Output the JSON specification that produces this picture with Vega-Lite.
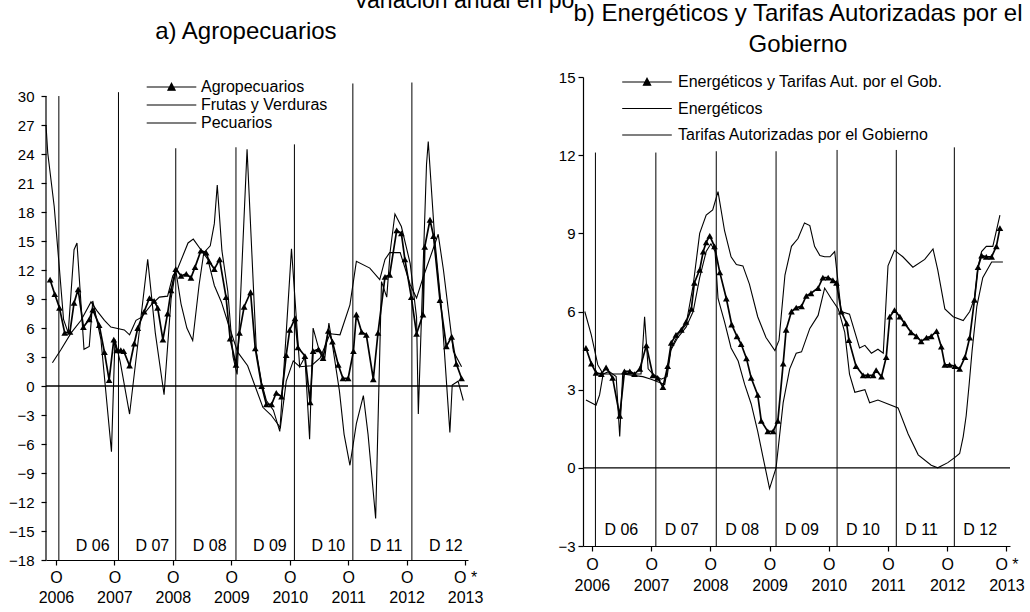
{
  "$schema": "https://vega.github.io/schema/vega-lite/v6.json",
  "padding": {"left": 8, "top": -10, "right": 0, "bottom": 0},
  "background": "white",
  "config": {
    "font": "Liberation Sans",
    "view": {"stroke": null},
    "axis": {"domainColor": "black", "tickColor": "black", "labelColor": "black", "grid": false, "labelFont": "Liberation Sans", "domainWidth": 1.2, "tickWidth": 1.2, "labelOverlap": false, "labelFlush": false},
    "text": {"font": "Liberation Sans", "color": "black"}
  },
  "datasets": {
    "marcasA": [
      {"t": 2006.05, "top": 30.0, "etiqueta": "D 06"},
      {"t": 2007.07, "top": 30.4, "etiqueta": "D 07"},
      {"t": 2008.05, "top": 24.6, "etiqueta": "D 08"},
      {"t": 2009.08, "top": 24.7, "etiqueta": "D 09"},
      {"t": 2010.08, "top": 25.0, "etiqueta": "D 10"},
      {"t": 2011.08, "top": 31.3, "etiqueta": "D 11"},
      {"t": 2012.09, "top": 31.4, "etiqueta": "D 12"}
    ],
    "marcasB": [
      {"t": 2006.06, "top": 12.1, "etiqueta": "D 06"},
      {"t": 2007.08, "top": 12.1, "etiqueta": "D 07"},
      {"t": 2008.10, "top": 12.15, "etiqueta": "D 08"},
      {"t": 2009.11, "top": 12.15, "etiqueta": "D 09"},
      {"t": 2010.14, "top": 12.2, "etiqueta": "D 10"},
      {"t": 2011.14, "top": 12.2, "etiqueta": "D 11"},
      {"t": 2012.12, "top": 12.3, "etiqueta": "D 12"}
    ],
    "agro": [
      {"t":2005.90,"v":11.0},{"t":2005.98,"v":9.5},{"t":2006.06,"v":8.1},{"t":2006.15,"v":5.5},{"t":2006.24,"v":5.6},{"t":2006.31,"v":8.6},{"t":2006.38,"v":10.0},{"t":2006.47,"v":6.1},{"t":2006.57,"v":6.9},{"t":2006.63,"v":7.9},{"t":2006.74,"v":6.3},{"t":2006.83,"v":3.5},{"t":2006.91,"v":0.6},{"t":2006.99,"v":4.8},{"t":2007.04,"v":3.7},{"t":2007.11,"v":3.7},{"t":2007.16,"v":3.6},{"t":2007.26,"v":2.1},{"t":2007.34,"v":4.4},{"t":2007.40,"v":6.0},{"t":2007.51,"v":7.7},{"t":2007.60,"v":9.1},{"t":2007.68,"v":8.8},{"t":2007.74,"v":8.1},{"t":2007.83,"v":4.8},{"t":2007.91,"v":7.5},{"t":2007.97,"v":9.9},{"t":2008.05,"v":12.1},{"t":2008.14,"v":11.4},{"t":2008.23,"v":11.6},{"t":2008.31,"v":11.2},{"t":2008.38,"v":12.3},{"t":2008.48,"v":14.0},{"t":2008.57,"v":13.8},{"t":2008.62,"v":12.9},{"t":2008.71,"v":12.1},{"t":2008.80,"v":13.1},{"t":2008.91,"v":9.2},{"t":2008.98,"v":4.9},{"t":2009.08,"v":2.2},{"t":2009.14,"v":5.5},{"t":2009.22,"v":8.2},{"t":2009.33,"v":9.7},{"t":2009.41,"v":3.9},{"t":2009.52,"v":0.0},{"t":2009.60,"v":-1.9},{"t":2009.69,"v":-1.9},{"t":2009.77,"v":-0.7},{"t":2009.86,"v":-1.1},{"t":2009.94,"v":3.2},{"t":2010.00,"v":5.8},{"t":2010.09,"v":7.0},{"t":2010.14,"v":4.0},{"t":2010.26,"v":3.1},{"t":2010.35,"v":-1.7},{"t":2010.40,"v":3.6},{"t":2010.49,"v":3.8},{"t":2010.57,"v":2.9},{"t":2010.66,"v":5.7},{"t":2010.73,"v":4.6},{"t":2010.83,"v":2.2},{"t":2010.91,"v":0.8},{"t":2011.00,"v":0.8},{"t":2011.09,"v":3.6},{"t":2011.14,"v":7.4},{"t":2011.23,"v":5.6},{"t":2011.31,"v":5.3},{"t":2011.43,"v":0.7},{"t":2011.51,"v":5.5},{"t":2011.63,"v":11.3},{"t":2011.71,"v":11.5},{"t":2011.83,"v":16.1},{"t":2011.91,"v":15.8},{"t":2011.97,"v":13.1},{"t":2012.08,"v":9.2},{"t":2012.17,"v":5.4},{"t":2012.28,"v":7.4},{"t":2012.31,"v":14.4},{"t":2012.40,"v":17.2},{"t":2012.46,"v":15.5},{"t":2012.57,"v":8.9},{"t":2012.68,"v":4.1},{"t":2012.77,"v":5.1},{"t":2012.85,"v":2.3},{"t":2012.94,"v":0.8}
    ],
    "frutas": [
      {"t":2005.83,"v":27.0},{"t":2005.86,"v":24.1},{"t":2005.97,"v":18.6},{"t":2006.06,"v":12.1},{"t":2006.13,"v":6.9},{"t":2006.21,"v":5.5},{"t":2006.31,"v":14.1},{"t":2006.36,"v":14.8},{"t":2006.48,"v":3.8},{"t":2006.57,"v":4.1},{"t":2006.63,"v":8.8},{"t":2006.77,"v":4.8},{"t":2006.95,"v":-6.8},{"t":2007.01,"v":4.8},{"t":2007.10,"v":2.5},{"t":2007.26,"v":-2.9},{"t":2007.46,"v":7.4},{"t":2007.57,"v":13.1},{"t":2007.70,"v":5.5},{"t":2007.85,"v":-0.9},{"t":2007.97,"v":9.0},{"t":2008.05,"v":12.0},{"t":2008.14,"v":8.5},{"t":2008.24,"v":6.0},{"t":2008.34,"v":4.7},{"t":2008.45,"v":10.5},{"t":2008.53,"v":13.8},{"t":2008.64,"v":14.5},{"t":2008.71,"v":16.8},{"t":2008.76,"v":20.8},{"t":2008.84,"v":14.0},{"t":2008.94,"v":9.8},{"t":2009.03,"v":3.0},{"t":2009.10,"v":1.2},{"t":2009.27,"v":24.5},{"t":2009.43,"v":3.5},{"t":2009.52,"v":0.3},{"t":2009.60,"v":-1.5},{"t":2009.72,"v":-2.5},{"t":2009.83,"v":-4.7},{"t":2009.94,"v":5.5},{"t":2010.03,"v":14.2},{"t":2010.09,"v":9.0},{"t":2010.17,"v":2.0},{"t":2010.26,"v":3.0},{"t":2010.34,"v":-5.5},{"t":2010.40,"v":6.0},{"t":2010.49,"v":4.0},{"t":2010.60,"v":2.9},{"t":2010.67,"v":6.5},{"t":2010.74,"v":3.9},{"t":2010.85,"v":-0.5},{"t":2010.93,"v":-5.0},{"t":2011.03,"v":-8.2},{"t":2011.14,"v":-3.9},{"t":2011.26,"v":-1.0},{"t":2011.34,"v":-5.0},{"t":2011.47,"v":-13.7},{"t":2011.57,"v":10.8},{"t":2011.66,"v":9.2},{"t":2011.72,"v":14.0},{"t":2011.80,"v":17.8},{"t":2011.91,"v":16.5},{"t":2012.06,"v":12.7},{"t":2012.17,"v":7.1},{"t":2012.20,"v":-2.9},{"t":2012.28,"v":11.9},{"t":2012.34,"v":22.9},{"t":2012.37,"v":25.3},{"t":2012.48,"v":15.3},{"t":2012.60,"v":7.7},{"t":2012.74,"v":-4.8},{"t":2012.78,"v":0.1},{"t":2012.88,"v":0.5},{"t":2012.97,"v":-1.5}
    ],
    "pecuarios": [
      {"t":2005.94,"v":2.4},{"t":2006.09,"v":3.8},{"t":2006.26,"v":5.5},{"t":2006.43,"v":6.8},{"t":2006.60,"v":8.7},{"t":2006.70,"v":7.8},{"t":2006.83,"v":6.8},{"t":2006.94,"v":6.1},{"t":2007.17,"v":5.8},{"t":2007.26,"v":5.3},{"t":2007.37,"v":6.8},{"t":2007.46,"v":7.1},{"t":2007.63,"v":8.4},{"t":2007.77,"v":9.2},{"t":2007.91,"v":9.3},{"t":2008.00,"v":11.4},{"t":2008.08,"v":12.1},{"t":2008.26,"v":14.8},{"t":2008.35,"v":15.2},{"t":2008.48,"v":14.1},{"t":2008.60,"v":13.1},{"t":2008.71,"v":10.4},{"t":2008.83,"v":8.7},{"t":2008.94,"v":6.6},{"t":2009.11,"v":3.5},{"t":2009.28,"v":2.1},{"t":2009.40,"v":0.1},{"t":2009.54,"v":-2.2},{"t":2009.68,"v":-3.0},{"t":2009.84,"v":-4.3},{"t":2009.94,"v":0.5},{"t":2010.06,"v":2.6},{"t":2010.17,"v":2.0},{"t":2010.37,"v":2.1},{"t":2010.52,"v":2.9},{"t":2010.69,"v":5.4},{"t":2010.86,"v":5.3},{"t":2011.03,"v":8.4},{"t":2011.14,"v":12.9},{"t":2011.37,"v":12.2},{"t":2011.54,"v":11.0},{"t":2011.63,"v":13.1},{"t":2011.71,"v":13.8},{"t":2011.89,"v":13.8},{"t":2012.06,"v":10.5},{"t":2012.17,"v":9.1},{"t":2012.28,"v":11.2},{"t":2012.46,"v":14.3},{"t":2012.54,"v":15.7},{"t":2012.63,"v":12.0},{"t":2012.80,"v":3.6},{"t":2012.94,"v":2.0}
    ],
    "etg": [
      {"t":2005.90,"v":4.6},{"t":2005.99,"v":4.0},{"t":2006.07,"v":3.65},{"t":2006.16,"v":3.6},{"t":2006.24,"v":3.85},{"t":2006.35,"v":3.45},{"t":2006.47,"v":2.0},{"t":2006.55,"v":3.7},{"t":2006.64,"v":3.7},{"t":2006.72,"v":3.6},{"t":2006.81,"v":3.8},{"t":2006.92,"v":4.7},{"t":2007.03,"v":3.55},{"t":2007.11,"v":3.45},{"t":2007.20,"v":3.1},{"t":2007.28,"v":3.9},{"t":2007.34,"v":4.8},{"t":2007.42,"v":5.1},{"t":2007.51,"v":5.3},{"t":2007.59,"v":5.6},{"t":2007.68,"v":6.1},{"t":2007.73,"v":7.1},{"t":2007.82,"v":7.6},{"t":2007.88,"v":8.3},{"t":2007.93,"v":8.65},{"t":2007.99,"v":8.9},{"t":2008.07,"v":8.5},{"t":2008.16,"v":7.5},{"t":2008.27,"v":6.5},{"t":2008.36,"v":5.5},{"t":2008.45,"v":5.05},{"t":2008.52,"v":4.75},{"t":2008.61,"v":4.2},{"t":2008.69,"v":3.45},{"t":2008.80,"v":2.8},{"t":2008.86,"v":1.8},{"t":2008.97,"v":1.4},{"t":2009.06,"v":1.4},{"t":2009.14,"v":1.8},{"t":2009.23,"v":4.0},{"t":2009.28,"v":5.3},{"t":2009.37,"v":6.0},{"t":2009.45,"v":6.15},{"t":2009.54,"v":6.2},{"t":2009.62,"v":6.6},{"t":2009.70,"v":6.7},{"t":2009.82,"v":6.9},{"t":2009.90,"v":7.3},{"t":2009.99,"v":7.3},{"t":2010.07,"v":7.2},{"t":2010.13,"v":7.1},{"t":2010.21,"v":6.0},{"t":2010.30,"v":5.55},{"t":2010.34,"v":4.9},{"t":2010.46,"v":3.9},{"t":2010.58,"v":3.55},{"t":2010.66,"v":3.55},{"t":2010.75,"v":3.55},{"t":2010.80,"v":3.75},{"t":2010.89,"v":3.5},{"t":2010.97,"v":4.25},{"t":2011.03,"v":5.8},{"t":2011.11,"v":6.05},{"t":2011.20,"v":5.8},{"t":2011.28,"v":5.55},{"t":2011.39,"v":5.2},{"t":2011.48,"v":5.05},{"t":2011.56,"v":4.85},{"t":2011.65,"v":5.0},{"t":2011.73,"v":5.05},{"t":2011.82,"v":5.25},{"t":2011.90,"v":4.65},{"t":2011.96,"v":3.95},{"t":2012.04,"v":3.95},{"t":2012.13,"v":3.9},{"t":2012.21,"v":3.8},{"t":2012.30,"v":4.25},{"t":2012.38,"v":5.0},{"t":2012.46,"v":6.45},{"t":2012.52,"v":7.7},{"t":2012.58,"v":8.15},{"t":2012.66,"v":8.1},{"t":2012.75,"v":8.1},{"t":2012.83,"v":8.5},{"t":2012.89,"v":9.2}
    ],
    "energ": [
      {"t":2005.88,"v":6.0},{"t":2005.99,"v":5.1},{"t":2006.10,"v":3.95},{"t":2006.19,"v":3.6},{"t":2006.29,"v":3.7},{"t":2006.41,"v":3.5},{"t":2006.47,"v":1.2},{"t":2006.52,"v":3.6},{"t":2006.69,"v":3.6},{"t":2006.83,"v":3.6},{"t":2006.89,"v":5.8},{"t":2006.95,"v":3.8},{"t":2007.03,"v":3.6},{"t":2007.17,"v":3.4},{"t":2007.27,"v":3.5},{"t":2007.34,"v":4.6},{"t":2007.45,"v":5.1},{"t":2007.59,"v":5.5},{"t":2007.71,"v":7.0},{"t":2007.82,"v":9.0},{"t":2007.93,"v":9.7},{"t":2008.04,"v":9.9},{"t":2008.13,"v":10.6},{"t":2008.24,"v":9.1},{"t":2008.35,"v":8.1},{"t":2008.44,"v":7.8},{"t":2008.55,"v":7.75},{"t":2008.66,"v":7.05},{"t":2008.80,"v":5.8},{"t":2008.94,"v":5.0},{"t":2009.09,"v":4.5},{"t":2009.16,"v":4.9},{"t":2009.26,"v":7.4},{"t":2009.37,"v":8.5},{"t":2009.48,"v":8.8},{"t":2009.59,"v":9.4},{"t":2009.68,"v":9.3},{"t":2009.76,"v":8.5},{"t":2009.85,"v":8.15},{"t":2009.93,"v":8.1},{"t":2010.02,"v":8.1},{"t":2010.10,"v":8.3},{"t":2010.21,"v":6.0},{"t":2010.35,"v":5.9},{"t":2010.52,"v":4.6},{"t":2010.61,"v":4.7},{"t":2010.72,"v":4.4},{"t":2010.83,"v":4.55},{"t":2010.92,"v":4.4},{"t":2011.00,"v":7.75},{"t":2011.11,"v":8.35},{"t":2011.25,"v":8.1},{"t":2011.42,"v":7.7},{"t":2011.62,"v":8.0},{"t":2011.76,"v":8.4},{"t":2011.84,"v":7.6},{"t":2011.96,"v":6.1},{"t":2012.10,"v":5.8},{"t":2012.27,"v":5.65},{"t":2012.38,"v":6.0},{"t":2012.46,"v":6.5},{"t":2012.52,"v":7.7},{"t":2012.58,"v":8.3},{"t":2012.66,"v":8.5},{"t":2012.77,"v":8.5},{"t":2012.89,"v":9.7}
    ],
    "tarifas": [
      {"t":2005.90,"v":2.6},{"t":2006.07,"v":2.4},{"t":2006.13,"v":2.8},{"t":2006.19,"v":3.6},{"t":2006.35,"v":3.6},{"t":2006.52,"v":3.6},{"t":2006.69,"v":3.55},{"t":2006.86,"v":3.5},{"t":2007.00,"v":3.4},{"t":2007.11,"v":3.3},{"t":2007.23,"v":3.2},{"t":2007.33,"v":4.5},{"t":2007.45,"v":5.0},{"t":2007.59,"v":5.4},{"t":2007.71,"v":6.0},{"t":2007.82,"v":7.3},{"t":2007.93,"v":8.3},{"t":2008.01,"v":8.6},{"t":2008.08,"v":8.3},{"t":2008.13,"v":6.5},{"t":2008.24,"v":5.6},{"t":2008.35,"v":4.6},{"t":2008.47,"v":4.1},{"t":2008.58,"v":3.2},{"t":2008.69,"v":2.45},{"t":2008.80,"v":1.4},{"t":2008.89,"v":0.4},{"t":2009.00,"v":-0.8},{"t":2009.11,"v":0.0},{"t":2009.23,"v":2.5},{"t":2009.34,"v":3.8},{"t":2009.45,"v":4.4},{"t":2009.54,"v":4.45},{"t":2009.68,"v":5.35},{"t":2009.82,"v":5.85},{"t":2009.93,"v":6.9},{"t":2010.04,"v":6.5},{"t":2010.16,"v":6.1},{"t":2010.27,"v":5.2},{"t":2010.35,"v":3.6},{"t":2010.44,"v":2.9},{"t":2010.61,"v":3.0},{"t":2010.69,"v":2.5},{"t":2010.83,"v":2.6},{"t":2011.00,"v":2.45},{"t":2011.17,"v":2.3},{"t":2011.34,"v":1.3},{"t":2011.51,"v":0.5},{"t":2011.73,"v":0.1},{"t":2011.84,"v":0.0},{"t":2012.01,"v":0.2},{"t":2012.13,"v":0.4},{"t":2012.21,"v":0.55},{"t":2012.27,"v":1.2},{"t":2012.32,"v":2.0},{"t":2012.37,"v":3.2},{"t":2012.42,"v":4.5},{"t":2012.50,"v":6.2},{"t":2012.60,"v":7.3},{"t":2012.75,"v":7.9},{"t":2012.94,"v":7.9}
    ]
  },
  "hconcat": [
    {
      "width": 422,
      "height": 483,
      "layer": [
        {
          "data": {"name": "marcasA"},
          "mark": {"type": "rule", "color": "black", "strokeWidth": 1},
          "encoding": {
            "x": {"field": "t", "type": "quantitative",
              "scale": {"domain": [2005.83, 2013.05], "nice": false, "zero": false},
              "axis": {"title": null, "values": [2006, 2007, 2008, 2009, 2010, 2011, 2012, 2013], "tickCount": 20,
                "labelExpr": "datum.value == 2013 ? ['O *', '2013'] : ['O', '' + datum.value]",
                "labelFontSize": 16, "labelLineHeight": 20, "tickSize": 5, "labelPadding": 4, "labelOverlap": false, "labelFlush": false}},
            "y": {"field": "top", "type": "quantitative",
              "scale": {"domain": [-18, 31.97], "nice": false, "zero": false},
              "axis": {"title": null, "values": [-18, -15, -12, -9, -6, -3, 0, 3, 6, 9, 12, 15, 18, 21, 24, 27, 30], "tickCount": 30,
                "domain": false, "labelFontSize": 15, "tickSize": 5, "labelPadding": 7, "labelOverlap": false, "labelFlush": false}},
            "y2": {"datum": -18}
          }
        },
        {
          "data": {"name": "marcasA"},
          "mark": {"type": "text", "align": "left", "baseline": "middle", "dx": 17, "fontSize": 16},
          "encoding": {
            "x": {"field": "t", "type": "quantitative"},
            "y": {"datum": -16.6},
            "text": {"field": "etiqueta"}
          }
        },
        {
          "data": {"values": [{}]},
          "mark": {"type": "rule", "color": "black", "strokeWidth": 1.3},
          "encoding": {"y": {"datum": 0}}
        },
        {
          "data": {"values": [{}]},
          "mark": {"type": "rule", "color": "black", "strokeWidth": 1.2},
          "encoding": {"x": {"datum": 2005.83}, "y": {"datum": -18}, "y2": {"datum": 30}}
        },
        {
          "data": {"name": "frutas"},
          "mark": {"type": "line", "strokeWidth": 1.1},
          "encoding": {
            "x": {"field": "t", "type": "quantitative"},
            "y": {"field": "v", "type": "quantitative"},
            "color": {"datum": "Frutas y Verduras", "type": "nominal",
              "scale": {"domain": ["Agropecuarios", "Frutas y Verduras", "Pecuarios"], "range": ["black", "black", "black"]},
              "legend": {"orient": "none", "legendX": 116.5, "legendY": 1, "title": null, "symbolSize": 256,
                "labelOffset": 20.5, "rowPadding": 1, "padding": 0, "labelFontSize": 16, "labelLimit": 0, "labelFont": "Liberation Sans", "labelColor": "black",
                "encode": {"symbols": {"update": {
                  "shape": {"signal": "datum.value === 'Agropecuarios' ? 'M-3.1,0H3.1M-0.45,0.4L0,-0.45L0.45,0.4Z' : 'M-3.1,0H3.1'"},
                  "fill": {"value": "black"}, "stroke": {"value": "black"}, "strokeWidth": {"value": 1.2}, "opacity": {"value": 1}}}}}}
          }
        },
        {
          "data": {"name": "pecuarios"},
          "mark": {"type": "line", "strokeWidth": 1.1},
          "encoding": {
            "x": {"field": "t", "type": "quantitative"},
            "y": {"field": "v", "type": "quantitative"},
            "color": {"datum": "Pecuarios", "type": "nominal"}
          }
        },
        {
          "data": {"name": "agro"},
          "mark": {"type": "line", "strokeWidth": 1.7},
          "encoding": {
            "x": {"field": "t", "type": "quantitative"},
            "y": {"field": "v", "type": "quantitative"},
            "color": {"datum": "Agropecuarios", "type": "nominal"}
          }
        },
        {
          "data": {"name": "agro"},
          "mark": {"type": "point", "shape": "triangle-up", "filled": true, "color": "black", "size": 45, "opacity": 1},
          "encoding": {
            "x": {"field": "t", "type": "quantitative"},
            "y": {"field": "v", "type": "quantitative"}
          }
        },
        {
          "data": {"values": [{}]},
          "mark": {"type": "text", "text": "a) Agropecuarios", "fontSize": 24, "align": "center", "baseline": "middle"},
          "encoding": {"x": {"datum": 2009.25}, "y": {"datum": 36.67}}
        },
        {
          "data": {"values": [{}]},
          "mark": {"type": "text", "text": "Variación anual en po", "fontSize": 23, "align": "left", "baseline": "alphabetic"},
          "encoding": {"x": {"datum": 2011.09}, "y": {"datum": 39.1}}
        }
      ]
    },
    {
      "width": 427,
      "height": 469,
      "layer": [
        {
          "data": {"name": "marcasB"},
          "mark": {"type": "rule", "color": "black", "strokeWidth": 1},
          "encoding": {
            "x": {"field": "t", "type": "quantitative",
              "scale": {"domain": [2005.85, 2013.06], "nice": false, "zero": false},
              "axis": {"title": null, "values": [2006, 2007, 2008, 2009, 2010, 2011, 2012, 2013], "tickCount": 20,
                "labelExpr": "datum.value == 2013 ? ['O *', '2013'] : ['O', '' + datum.value]",
                "labelFontSize": 16, "labelLineHeight": 21, "tickSize": 5, "labelPadding": 5, "labelOverlap": false, "labelFlush": false}},
            "y": {"field": "top", "type": "quantitative",
              "scale": {"domain": [-3, 15], "nice": false, "zero": false},
              "axis": {"title": null, "values": [-3, 0, 3, 6, 9, 12, 15], "tickCount": 20,
                "domain": true, "labelFontSize": 15, "tickSize": 5, "labelPadding": 3, "labelOverlap": false, "labelFlush": false}},
            "y2": {"datum": -3}
          }
        },
        {
          "data": {"name": "marcasB"},
          "mark": {"type": "text", "align": "left", "baseline": "middle", "dx": 9, "fontSize": 16},
          "encoding": {
            "x": {"field": "t", "type": "quantitative"},
            "y": {"datum": -2.4},
            "text": {"field": "etiqueta"}
          }
        },
        {
          "data": {"values": [{}]},
          "mark": {"type": "rule", "color": "black", "strokeWidth": 1.3},
          "encoding": {"y": {"datum": 0}}
        },
        {
          "data": {"name": "energ"},
          "mark": {"type": "line", "strokeWidth": 1.1},
          "encoding": {
            "x": {"field": "t", "type": "quantitative"},
            "y": {"field": "v", "type": "quantitative"},
            "color": {"datum": "Energéticos", "type": "nominal",
              "scale": {"domain": ["Energéticos y Tarifas Aut. por el Gob.", "Energéticos", "Tarifas Autorizadas por el Gobierno"], "range": ["black", "black", "black"]},
              "legend": {"orient": "none", "legendX": 55, "legendY": -4, "title": null, "symbolSize": 256,
                "labelOffset": 22, "rowPadding": 9.5, "padding": 0, "labelFontSize": 16, "labelLimit": 0, "labelFont": "Liberation Sans", "labelColor": "black",
                "encode": {"symbols": {"update": {
                  "shape": {"signal": "indexof(datum.value, 'Aut.') >= 0 ? 'M-3.1,0H3.1M-0.45,0.4L0,-0.45L0.45,0.4Z' : 'M-3.1,0H3.1'"},
                  "fill": {"value": "black"}, "stroke": {"value": "black"}, "strokeWidth": {"value": 1.2}, "opacity": {"value": 1}}}}}}
          }
        },
        {
          "data": {"name": "tarifas"},
          "mark": {"type": "line", "strokeWidth": 1.1},
          "encoding": {
            "x": {"field": "t", "type": "quantitative"},
            "y": {"field": "v", "type": "quantitative"},
            "color": {"datum": "Tarifas Autorizadas por el Gobierno", "type": "nominal"}
          }
        },
        {
          "data": {"name": "etg"},
          "mark": {"type": "line", "strokeWidth": 1.7},
          "encoding": {
            "x": {"field": "t", "type": "quantitative"},
            "y": {"field": "v", "type": "quantitative"},
            "color": {"datum": "Energéticos y Tarifas Aut. por el Gob.", "type": "nominal"}
          }
        },
        {
          "data": {"name": "etg"},
          "mark": {"type": "point", "shape": "triangle-up", "filled": true, "color": "black", "size": 45, "opacity": 1},
          "encoding": {
            "x": {"field": "t", "type": "quantitative"},
            "y": {"field": "v", "type": "quantitative"}
          }
        },
        {
          "data": {"values": [{}]},
          "mark": {"type": "text", "text": ["b) Energéticos y Tarifas Autorizadas por el", "Gobierno"], "fontSize": 24, "lineHeight": 31, "align": "center", "baseline": "middle"},
          "encoding": {"x": {"datum": 2009.48}, "y": {"datum": 17.4}}
        }
      ]
    }
  ],
  "spacing": 115,
  "bounds": "flush",
  "resolve": {"scale": {"color": "independent"}, "legend": {"color": "independent"}}
}
